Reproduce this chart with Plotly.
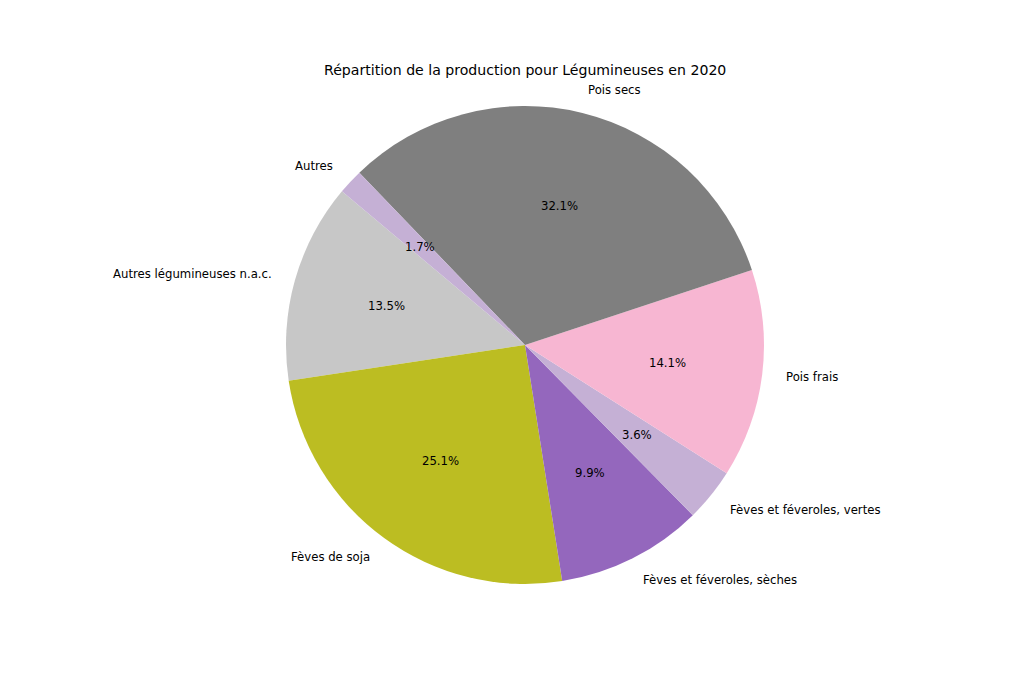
import math
import plotly.graph_objects as go

labels = ["Autres légumineuses n.a.c.", "Fèves de soja", "Fèves et féveroles, sèches",
          "Fèves et féveroles, vertes", "Pois frais", "Pois secs", "Autres"]
values = [13.5, 25.1, 9.9, 3.6, 14.1, 32.1, 1.7]
colors = ["#c7c7c7", "#bcbd22", "#9467bd", "#c5b0d5", "#f7b6d2", "#7f7f7f", "#c5b0d5"]
title = "Répartition de la production pour Légumineuses en 2020"

W, H = 1024, 683
cx, cy, r = 525, 345, 239
start = 140.0
total = sum(values)

# plotly (counterclockwise) puts the first slice's starting edge at rotation + first slice angle
rotation = -(start - 90) - 360 * values[0] / total

fig = go.Figure(go.Pie(
    labels=labels, values=values, sort=False, direction="counterclockwise",
    rotation=rotation, marker=dict(colors=colors, line=dict(width=0)),
    textinfo="none", hoverinfo="label+percent", showlegend=False,
    domain=dict(x=[(cx - r) / W, (cx + r) / W], y=[1 - (cy + r) / H, 1 - (cy - r) / H]),
))

font = dict(family="DejaVu Sans", size=11.7, color="black")
cum = 0.0
anns = []
for lab, v in zip(labels, values):
    mid = math.radians(start + 360 * (cum + v / 2) / total)
    cum += v
    c, s = math.cos(mid), math.sin(mid)
    lx, ly = cx + 1.1 * r * c, cy - 1.1 * r * s
    anns.append(dict(x=lx / W, y=1 - ly / H, xref="paper", yref="paper", text=lab,
                     showarrow=False, xanchor="left" if c > 0 else "right", yanchor="middle",
                     borderpad=0, borderwidth=0, font=font))
    px, py = cx + 0.6 * r * c, cy - 0.6 * r * s
    anns.append(dict(x=px / W, y=1 - py / H, xref="paper", yref="paper",
                     text=f"{100 * v / total:.1f}%", showarrow=False,
                     xanchor="center", yanchor="middle", borderpad=0, borderwidth=0, font=font))
anns.append(dict(x=cx / W, y=1 - 70 / H, xref="paper", yref="paper", text=title, showarrow=False,
                 xanchor="center", yanchor="middle", font=dict(family="DejaVu Sans", size=14.1, color="black")))

fig.update_layout(width=W, height=H, margin=dict(l=0, r=0, t=0, b=0),
                  paper_bgcolor="white", plot_bgcolor="white", annotations=anns)
fig.write_html("out.html")
